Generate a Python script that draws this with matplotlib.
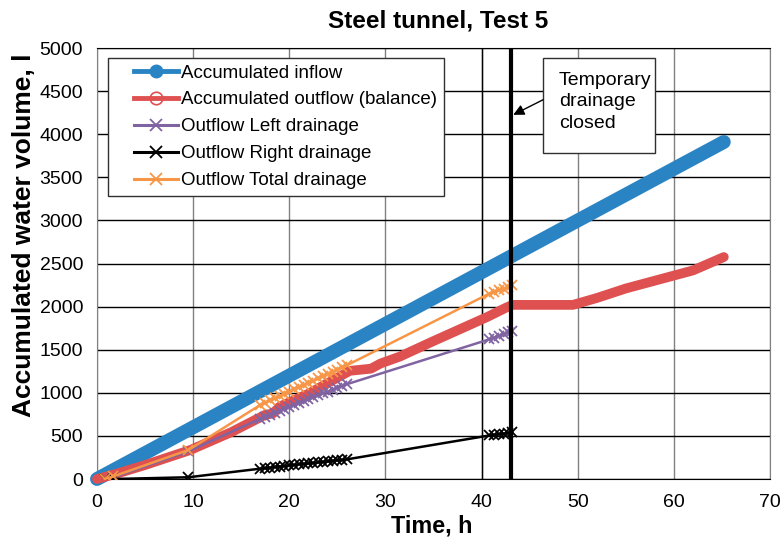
import matplotlib
matplotlib.use("Agg")
import matplotlib.pyplot as plt
from matplotlib.lines import Line2D
from matplotlib.legend_handler import HandlerLine2D
from matplotlib.patches import Rectangle

plt.rcParams['font.family'] = ['Liberation Sans', 'DejaVu Sans']

# ---- data ---------------------------------------------------------------
t_inflow = [0.0, 65.2]
v_inflow = [0, 3910]

t_outflow = [0.0, 2.0, 5.0, 9.7, 14.0, 17.5, 18.3, 19.0, 22.0, 26.3, 28.5,
             29.5, 31.5, 35.0, 40.6, 42.5, 43.2, 49.5, 52.0, 55.0, 58.0,
             60.0, 62.0, 65.2]
v_outflow = [0, 60, 162, 336, 545, 745, 760, 840, 990, 1255, 1280,
             1340, 1420, 1600, 1880, 1985, 2020, 2020, 2100, 2210, 2300,
             2360, 2420, 2575]

t_drain = [0.8, 1.7, 9.5,
           17.0, 17.5, 18.0, 18.5, 19.0, 19.5, 20.0, 20.5, 21.0, 21.5,
           22.0, 22.5, 23.0, 23.5, 24.0, 24.5, 25.0, 25.5, 26.0,
           40.8, 41.3, 41.8, 42.3, 42.8, 43.2]
v_left = [0, 20, 320,
          700, 722, 745, 767, 790, 812, 835, 857, 880, 902,
          925, 947, 970, 992, 1015, 1037, 1060, 1080, 1100,
          1620, 1640, 1660, 1680, 1700, 1715]
v_right = [0, 0, 20,
           120, 125, 130, 140, 145, 150, 158, 163, 170, 175,
           180, 187, 193, 198, 205, 210, 215, 222, 228,
           505, 512, 520, 527, 535, 540]
v_total = [0, 30, 336,
           860, 886, 911, 937, 962, 988, 1013, 1039, 1064, 1090,
           1115, 1141, 1166, 1192, 1218, 1243, 1269, 1294, 1320,
           2150, 2170, 2190, 2210, 2230, 2250]

t_closed = 43.1
t_event = 40.0

labels = ["Accumulated inflow", "Accumulated outflow (balance)",
          "Outflow Left drainage", "Outflow Right drainage",
          "Outflow Total drainage"]
note = "Temporary\ndrainage\nclosed"

BLUE = "#2A84C4"
RED = "#DF5050"
PURPLE = "#8064A2"
BLACK = "#000000"
ORANGE = "#F79646"

# ---- figure -------------------------------------------------------------
fig = plt.figure(figsize=(7.82, 5.45), dpi=100)
ax = fig.add_axes([0.1240, 0.1211, 0.8606, 0.7908])

ax.set_xlim(0, 70)
ax.set_ylim(0, 5000)
ax.set_xticks(range(0, 71, 10))
ax.set_yticks(range(0, 5001, 500))
ax.tick_params(axis='both', length=0, labelsize=14)
ax.tick_params(axis='y', pad=10)
ax.tick_params(axis='x', pad=11)

ax.set_axisbelow(True)
ax.yaxis.grid(True, color='black', lw=1.0)
ax.xaxis.grid(True, color='#808080', lw=1.0)
for side in ('left', 'right'):
    ax.spines[side].set_color('#808080')
for side in ('top', 'bottom'):
    ax.spines[side].set_color('black')

ax.axvline(t_event, color='black', lw=1.0, zorder=1)

ax.plot(t_inflow, v_inflow, color=BLUE, lw=10, solid_capstyle='round',
        zorder=3, clip_on=False)
ax.plot(t_outflow, v_outflow, color=RED, lw=7, solid_capstyle='round',
        solid_joinstyle='round', zorder=4, clip_on=False)
ax.plot(t_drain, v_left, color=PURPLE, lw=1.8, marker='x', ms=7, mew=1.3,
        zorder=5)
ax.plot(t_drain, v_right, color=BLACK, lw=1.8, marker='x', ms=7, mew=1.3,
        zorder=6)
ax.plot(t_drain, v_total, color=ORANGE, lw=1.8, marker='x', ms=7, mew=1.3,
        zorder=7)

ax.axvline(t_closed, color='black', lw=3, zorder=10)

# note box with arrow
ax.add_patch(Rectangle((46.4, 3782), 11.6, 1102, facecolor='white',
                       edgecolor='#303030', lw=1.0, zorder=11))
ax.text(48.05, 4374, note, fontsize=14, va='center', ha='left',
        linespacing=1.33, zorder=12)
ax.annotate("", xy=(43.3, 4225), xytext=(46.4, 4400),
            arrowprops=dict(arrowstyle='-|>', color='black', lw=1.0,
                            mutation_scale=16, shrinkA=0, shrinkB=0),
            zorder=12)

# legend
handles = [
    Line2D([], [], color=BLUE, lw=3.5, marker='o', ms=9, mfc=BLUE, mec=BLUE),
    Line2D([], [], color=RED, lw=3.5, marker='o', ms=9, mfc='none', mec=RED,
           mew=1.2),
    Line2D([], [], color=PURPLE, lw=2.2, marker='x', ms=9, mew=1.3),
    Line2D([], [], color=BLACK, lw=2.2, marker='x', ms=9, mew=1.3),
    Line2D([], [], color=ORANGE, lw=2.2, marker='x', ms=9, mew=1.3),
]
fs_leg = 13.5
hmap = {h: HandlerLine2D(numpoints=1, xpad=19.6 / (fs_leg * 100 / 72))
        for h in handles}
leg = ax.legend(handles, labels, loc='upper left',
                bbox_to_anchor=(0.0163, 0.977), borderaxespad=0,
                fontsize=fs_leg, handlelength=3.4, handletextpad=0.15,
                borderpad=0.35, labelspacing=0.52, fancybox=False,
                framealpha=1, edgecolor='#303030', handler_map=hmap)
leg.get_frame().set_linewidth(1.0)
leg.set_zorder(20)

ax.set_title("Steel tunnel, Test 5", fontsize=17.5, fontweight='bold',
             pad=15, x=0.507)
ax.set_xlabel("Time, h", fontsize=16.8, fontweight='bold')
ax.set_ylabel("Accumulated water volume, l", fontsize=19, fontweight='bold')
ax.xaxis.set_label_coords(0.498, -0.083)
ax.yaxis.set_label_coords(-0.09, 0.566)

fig.savefig("out.png", dpi=100)
